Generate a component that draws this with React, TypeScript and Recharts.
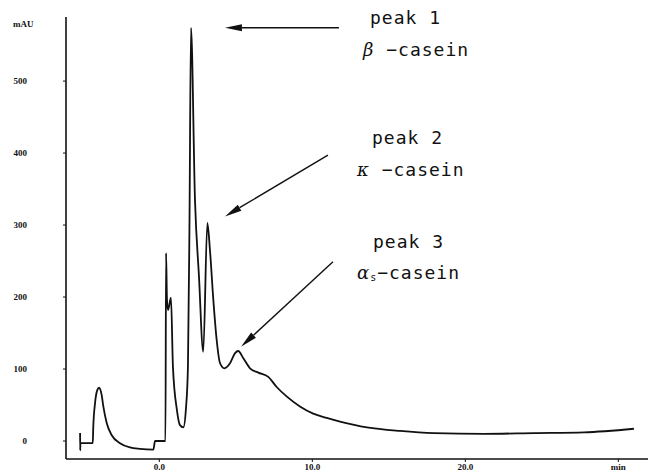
import React from 'react';
import { LineChart, Line, XAxis, YAxis, ReferenceLine } from 'recharts';

// retention time (min)
const times = [
  -5.18, -5.17, -5.16, -4.42, -4.35, -4.32, -4.20, -4.05, -3.94, -3.77, -3.66, -3.44, -3.11, -2.57, -1.92, -1.27, -0.39,
  -0.28, 0.40, 0.44, 0.50, 0.57, 0.76, 0.89, 1.15, 1.35, 1.57, 1.74, 1.87, 1.97, 2.07, 2.33, 2.59, 2.87,
  3.14, 3.31, 3.53, 3.75, 3.97, 4.25, 4.62, 4.95, 5.16, 5.49, 5.93, 6.47, 7.12, 7.67, 8.32, 9.19, 10.06, 10.94, 11.81,
  13.57, 15.73, 17.95, 21.22, 24.49, 27.76, 31.02,
];
// absorbance (mAU)
const absorbance = [
  11, -13, -3, -3, -3, 18, 53, 71, 74, 64, 48, 25, 8, -3, -9, -11, -12,
  0, 0, 261, 196, 182, 199, 103, 43, 22, 19, 45, 103, 300, 574, 335, 229, 124,
  303, 265, 196, 140, 108, 101, 108, 122, 125, 115, 101, 95, 89, 75, 62, 48, 38, 32, 27,
  19, 14, 11, 10, 11, 12, 17,
];
const xTicks = [0, 10, 20, 30];
const xTickLabels = ['0.0', '10.0', '20.0', 'min'];
const yTicks = [0, 100, 200, 300, 400, 500];

// annotation arrows in data units (start -> tip)
const arrowStartT = [11.74, 11.02, 11.35];
const arrowStartV = [574, 397, 249];
const arrowTipT = [4.29, 4.29, 5.34];
const arrowTipV = [574, 312, 131];

const data = times.map((t, i) => ({ t, v: absorbance[i] }));

const Arrow = (props: any) => {
  const { x1, y1, x2, y2 } = props;
  const dx = x2 - x1;
  const dy = y2 - y1;
  const len = Math.sqrt(dx * dx + dy * dy) || 1;
  const ux = dx / len;
  const uy = dy / len;
  const hl = 17;
  const hw = 3.5;
  const bx = x2 - ux * hl;
  const by = y2 - uy * hl;
  const pts = `${x2},${y2} ${bx - uy * hw},${by + ux * hw} ${bx + uy * hw},${by - ux * hw}`;
  return (
    <g>
      <line x1={x1} y1={y1} x2={bx} y2={by} stroke="#111" strokeWidth={1.4} />
      <polygon points={pts} fill="#111" />
    </g>
  );
};

const YTick = (props: any) => {
  const { y, payload } = props;
  return (
    <text x={27} y={y} dy={3} textAnchor="end" fontSize={9} fontWeight="bold" fontFamily="Liberation Serif" fill="#111">
      {payload.value}
    </text>
  );
};

const XTick = (props: any) => {
  const { x, payload } = props;
  const idx = xTicks.indexOf(payload.value);
  return (
    <text x={x} y={470} textAnchor="middle" fontSize={9} fontWeight="bold" fontFamily="Liberation Serif" fill="#111">
      {xTickLabels[idx]}
    </text>
  );
};

const labelStyle: React.CSSProperties = {
  position: 'absolute',
  fontFamily: 'DejaVu Sans Mono',
  fontSize: 18,
  letterSpacing: 1,
  color: '#111',
  whiteSpace: 'nowrap',
  lineHeight: '18px',
};

export default function App() {
  return (
    <div style={{ position: 'absolute', left: 0, top: 0, width: 648, height: 474, background: '#fff' }}>
      <LineChart width={648} height={474} data={data} margin={{ top: 17, right: 0, bottom: 0, left: 0 }}>
        <XAxis
          dataKey="t"
          type="number"
          domain={[-6.1, 31.94]}
          ticks={xTicks}
          tick={<XTick />}
          tickSize={3}
          height={15}
          axisLine={{ stroke: '#111', strokeWidth: 1.5 }}
          tickLine={{ stroke: '#111' }}
          allowDataOverflow
        />
        <YAxis
          type="number"
          domain={[-25, 589]}
          ticks={yTicks}
          tick={<YTick />}
          tickSize={3}
          width={66}
          axisLine={{ stroke: '#111', strokeWidth: 1.6 }}
          tickLine={{ stroke: '#111' }}
          allowDataOverflow
        />
        {arrowStartT.map((s, i) => (
          <ReferenceLine
            key={i}
            segment={[
              { x: s, y: arrowStartV[i] },
              { x: arrowTipT[i], y: arrowTipV[i] },
            ]}
            shape={<Arrow />}
            ifOverflow="visible"
          />
        ))}
        <Line
          type="monotone"
          dataKey="v"
          stroke="#111"
          strokeWidth={1.8}
          dot={false}
          isAnimationActive={false}
        />
      </LineChart>
      <div style={{ position: 'absolute', left: 13, top: 19, fontFamily: 'Liberation Serif', fontWeight: 'bold', fontSize: 9, color: '#111' }}>mAU</div>
      <div style={{ ...labelStyle, left: 370, top: 9 }}>peak 1</div>
      <div style={{ ...labelStyle, left: 363, top: 41 }}><i style={{ fontFamily: 'DejaVu Serif' }}>β</i> −casein</div>
      <div style={{ ...labelStyle, left: 372, top: 129 }}>peak 2</div>
      <div style={{ ...labelStyle, left: 357, top: 161 }}><i style={{ fontFamily: 'DejaVu Serif' }}>κ</i> −casein</div>
      <div style={{ ...labelStyle, left: 373, top: 233 }}>peak 3</div>
      <div style={{ ...labelStyle, left: 357, top: 264 }}>
        <i style={{ fontFamily: 'DejaVu Serif' }}>α</i>
        <sub style={{ fontSize: 10, verticalAlign: 'baseline', position: 'relative', top: 2 }}>s</sub>−casein
      </div>
    </div>
  );
}
